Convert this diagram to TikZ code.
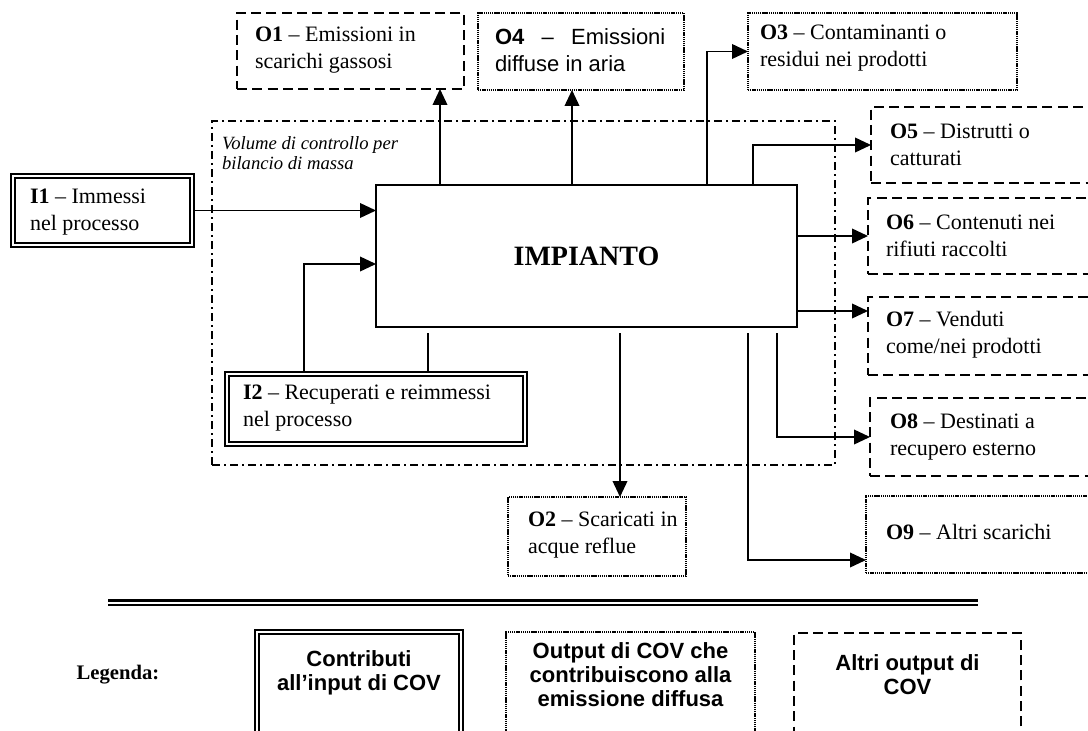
\documentclass[tikz,border=0pt]{standalone}
\usepackage{fontspec}
\setmainfont{Liberation Serif}
\newfontfamily\arialf{Liberation Sans}
\usetikzlibrary{arrows.meta,calc}

\begin{document}
\begin{tikzpicture}[x=0.75pt,y=-0.75pt,
  every node/.style={inner sep=0pt, outer sep=0pt},
  txt/.style={font=\fontsize{16.5}{20}\selectfont, align=left, anchor=west},
  dashbox/.style={draw, line width=1.4pt, dash pattern=on 7.5pt off 4pt},
  dotbox/.style={draw, line width=1.3pt, dash pattern=on 1pt off 0.6pt},
  dblbox/.style={draw, line width=1.3pt, double, double distance=1.5pt, outer sep=2.05pt},
  cvbox/.style={draw, line width=1.3pt, dash pattern=on 6pt off 3pt on 1.5pt off 3pt},
  conn/.style={line width=1.2pt},
  arr/.style={conn, -{Triangle[length=12pt,width=11pt]}},
  leg/.style={font=\arialf\bfseries\fontsize{16.5}{18}\selectfont, align=center},
]
\useasboundingbox (0,0) rectangle (1088,731);
\clip (0,0) rectangle (1088,731);
\fill[white] (0,0) rectangle (1088,731);

% control volume
\node[cvbox, minimum width=467.25pt, minimum height=258pt] (cv) at (523.5,293) {};
\node[font=\itshape\fontsize{14}{15}\selectfont, align=left, anchor=west] (cvl) at (222,153) {Volume di controllo per\\bilancio di massa};

% plant
\node[draw, conn, minimum width=315.75pt, minimum height=106.5pt, font=\bfseries\fontsize{21}{24}\selectfont] (imp) at (586.5,256) {IMPIANTO};

% outputs
\node[dashbox, minimum width=170.25pt, minimum height=57pt] (o1) at (350.5,51) {};
\node[txt] (o1t) at (255,50) {\textbf{O1} – Emissioni in\\scarichi gassosi};

\node[dotbox, minimum width=154.5pt, minimum height=57.75pt] (o4) at (581,51.5) {};
\node[txt, font=\arialf\fontsize{16.5}{20}\selectfont] (o4t) at (495,50) {\textbf{O4}\hspace{13pt}–\hspace{13pt}Emissioni\\diffuse in aria};

\node[dotbox, minimum width=201.75pt, minimum height=57.75pt] (o3) at (882.5,51.5) {};
\node[txt] (o3t) at (760,48) {\textbf{O3} – Contaminanti o\\residui nei prodotti};

\node[dashbox, minimum width=171.75pt, minimum height=57pt] (o5) at (985.5,145) {};
\node[txt] (o5t) at (890,145) {\textbf{O5} – Distrutti o\\catturati};

\node[dashbox, minimum width=174pt, minimum height=57pt] (o6) at (984,236) {};
\node[txt] (o6t) at (886,236) {\textbf{O6} – Contenuti nei\\rifiuti raccolti};

\node[dashbox, minimum width=174pt, minimum height=58.5pt] (o7) at (984,336) {};
\node[txt] (o7t) at (886,335) {\textbf{O7} – Venduti\\come/nei prodotti};

\node[dashbox, minimum width=172.5pt, minimum height=58.5pt] (o8) at (985,437) {};
\node[txt] (o8t) at (890,437) {\textbf{O8} – Destinati a\\recupero esterno};

\node[dotbox, minimum width=175.5pt, minimum height=57.75pt] (o9) at (983,534.5) {};
\node[txt] (o9t) at (886,532) {\textbf{O9} – Altri scarichi};

\node[dotbox, minimum width=133.5pt, minimum height=59.25pt] (o2) at (597,536.5) {};
\node[txt] (o2t) at (528,535) {\textbf{O2} – Scaricati in\\acque reflue};

% inputs
\node[dblbox, minimum width=134.25pt, minimum height=51.75pt] (i1) at (102.5,210.5) {};
\node[txt] (i1t) at (30,212) {\textbf{I1} – Immessi\\nel processo};

\node[dblbox, minimum width=223.5pt, minimum height=52.5pt] (i2) at (376,409) {};
\node[txt] (i2t) at (243,408) {\textbf{I2} – Recuperati e reimmessi\\nel processo};

% connector positions
\coordinate (x1) at (440,0);
\coordinate (x4) at (572,0);
\coordinate (x3) at (707,0);
\coordinate (x5) at (753,0);
\coordinate (y7) at (0,311);
\coordinate (x8) at (777,0);
\coordinate (x9) at (748,0);
\coordinate (y9) at (0,560);
\coordinate (x2) at (620,0);
\coordinate (xa) at (304,0);
\coordinate (ya) at (0,264);
\coordinate (xb) at (428,0);

\draw[arr] (i1.east) -- (i1.east -| imp.west);
\draw[arr] (imp.north -| x1) -- (o1.south -| x1);
\draw[arr] (imp.north -| x4) -- (o4.south -| x4);
\draw[arr] (imp.north -| x3) |- (o3.west);
\draw[arr] (imp.north -| x5) |- (o5.west);
\draw[arr] (imp.east |- o6.west) -- (o6.west);
\draw[arr] (imp.east |- y7) -- (o7.west |- y7);
\draw[arr] ($(imp.south -| x8)+(0,6)$) |- (o8.west);
\draw[arr] ($(imp.south -| x9)+(0,6)$) |- (o9.west |- y9);
\draw[arr] ($(imp.south -| x2)+(0,6)$) -- (o2.north -| x2);
\draw[arr] (i2.north -| xa) |- (imp.west |- ya);
\draw[conn] (i2.north -| xb) -- ($(imp.south -| xb)+(0,6)$);

% separator
\coordinate (h1) at (108,600.3);
\coordinate (h2) at (978,600.3);
\coordinate (h3) at (108,604.6);
\coordinate (h4) at (978,604.6);
\draw[line width=2.4pt] (h1) -- (h2);
\draw[line width=1.5pt] (h3) -- (h4);

% legend
\node[font=\bfseries\fontsize{15.5}{18}\selectfont] (legt) at (118,675) {Legenda:};
\node[dblbox, outer sep=0pt, minimum width=153pt, minimum height=96pt] (l1) at (359,696) {};
\node[leg] (l1t) at (359,673) {Contributi\\all’input di COV};
\node[dotbox, minimum width=186.75pt, minimum height=96pt] (l2) at (630.5,696) {};
\node[leg] (l2t) at (630.5,675) {Output di COV che\\contribuiscono alla\\emissione diffusa};
\node[dashbox, minimum width=170.25pt, minimum height=95.25pt] (l3) at (907.5,696.5) {};
\node[leg] (l3t) at (907.5,675) {Altri output di\\COV};
\end{tikzpicture}
\end{document}
